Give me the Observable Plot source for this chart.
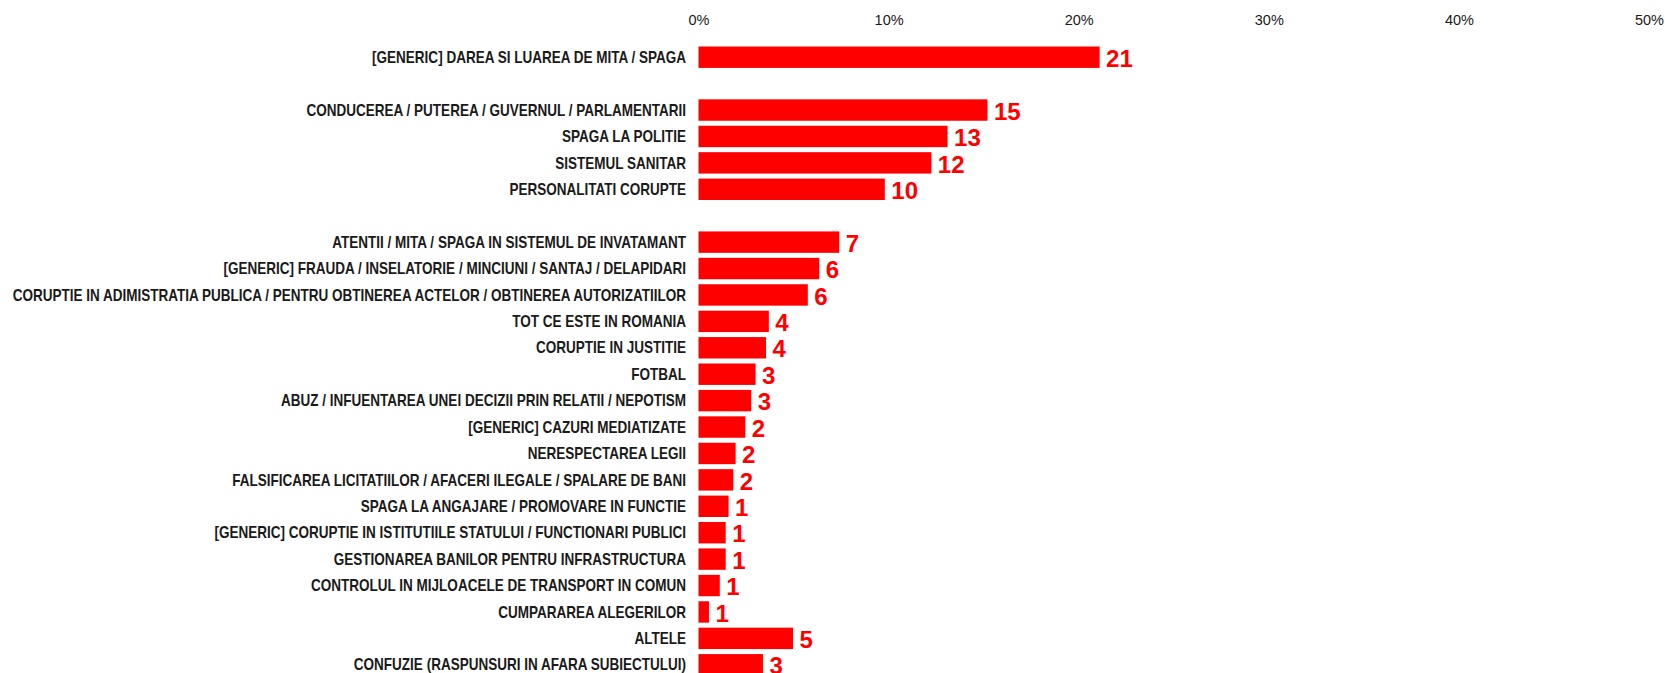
<!DOCTYPE html>
<html>
<head>
<meta charset="utf-8">
<script src="https://cdn.jsdelivr.net/npm/d3@7"></script>
<script src="https://cdn.jsdelivr.net/npm/@observablehq/plot@0.6"></script>
<style>
  html, body { margin: 0; padding: 0; background: #fff; }
  #chart { width: 1665px; height: 673px; overflow: hidden; }
</style>
</head>
<body>
<div id="chart"></div>
<script>
// Categories in display order, split into groups separated by an empty row
const group1 = ["[GENERIC] DAREA SI LUAREA DE MITA / SPAGA"];
const group2 = [
  "CONDUCEREA / PUTEREA / GUVERNUL / PARLAMENTARII",
  "SPAGA LA POLITIE",
  "SISTEMUL SANITAR",
  "PERSONALITATI CORUPTE"
];
const group3 = [
  "ATENTII / MITA / SPAGA IN SISTEMUL DE INVATAMANT",
  "[GENERIC] FRAUDA / INSELATORIE / MINCIUNI / SANTAJ / DELAPIDARI",
  "CORUPTIE IN ADIMISTRATIA PUBLICA / PENTRU OBTINEREA ACTELOR / OBTINEREA AUTORIZATIILOR",
  "TOT CE ESTE IN ROMANIA",
  "CORUPTIE IN JUSTITIE",
  "FOTBAL",
  "ABUZ / INFUENTAREA UNEI DECIZII PRIN RELATII / NEPOTISM",
  "[GENERIC] CAZURI MEDIATIZATE",
  "NERESPECTAREA LEGII",
  "FALSIFICAREA LICITATIILOR / AFACERI ILEGALE / SPALARE DE BANI",
  "SPAGA LA ANGAJARE / PROMOVARE IN FUNCTIE",
  "[GENERIC] CORUPTIE IN ISTITUTIILE STATULUI / FUNCTIONARI PUBLICI",
  "GESTIONAREA BANILOR PENTRU INFRASTRUCTURA",
  "CONTROLUL IN MIJLOACELE DE TRANSPORT IN COMUN",
  "CUMPARAREA ALEGERILOR",
  "ALTELE",
  "CONFUZIE (RASPUNSURI IN AFARA SUBIECTULUI)"
];
// Bar values (percent)
const values1 = [21.1];
const values2 = [15.2, 13.1, 12.25, 9.8];
const values3 = [7.4, 6.35, 5.75, 3.7, 3.55, 3.0, 2.77, 2.46, 1.95, 1.83, 1.58, 1.43, 1.43, 1.12, 0.55, 4.97, 3.39];
// Printed value labels
const labels1 = ["21"];
const labels2 = ["15", "13", "12", "10"];
const labels3 = ["7", "6", "6", "4", "4", "3", "3", "2", "2", "2", "1", "1", "1", "1", "1", "5", "3"];
// X axis ticks
const xTicks = [0, 10, 20, 30, 40, 50];

const GAP1 = "\u0000gap1", GAP2 = "\u0000gap2";
const domain = [...group1, GAP1, ...group2, GAP2, ...group3];
const cats = [...group1, ...group2, ...group3];
const vals = [...values1, ...values2, ...values3];
const labs = [...labels1, ...labels2, ...labels3];
const data = cats.map((c, i) => ({category: c, value: vals[i], label: labs[i]}));

const chart = Plot.plot({
  width: 1665,
  height: 678,
  marginLeft: 698.5,
  marginRight: 16,
  marginTop: 44,
  marginBottom: 0,
  style: {background: "#fff", color: "#1a1a1a"},
  x: {domain: [0, 50], axis: null, label: null},
  y: {domain, padding: 0, round: false, axis: null, label: null},
  marks: [
    Plot.axisX({
      anchor: "top",
      ticks: xTicks,
      tickSize: 0,
      tickPadding: 20,
      label: null,
      tickFormat: d => d + "%",
      fontSize: 14.5,
      fill: "#1a1a1a",
      fontFamily: "'Liberation Sans', Arial, sans-serif"
    }),
    Plot.axisY({
      tickSize: 0,
      tickPadding: 13,
      label: null,
      tickFormat: d => d.startsWith("\u0000") ? "" : d,
      fontSize: 16,
      fontWeight: "bold",
      fill: "#1a1a1a",
      fontFamily: "'Liberation Sans', Arial, sans-serif"
    }),
    Plot.barX(data, {x: "value", y: "category", fill: "#ff0000", insetTop: 2.5, insetBottom: 2.5}),
    Plot.text(data, {
      x: "value", y: "category", text: "label",
      textAnchor: "start", dx: 6, dy: 1.5,
      fill: "#ff0000", fontSize: 24, fontWeight: "bold",
      fontFamily: "'Liberation Sans', Arial, sans-serif"
    })
  ]
});
// Narrow the category labels horizontally (condensed look), keeping right alignment
d3.select(chart).selectAll('g[aria-label="y-axis tick label"] text').each(function() {
  const t = d3.select(this);
  const tr = t.attr("transform") || "";
  t.attr("transform", tr + " scale(0.845,1)");
});
document.getElementById("chart").appendChild(chart);
</script>
</body>
</html>
